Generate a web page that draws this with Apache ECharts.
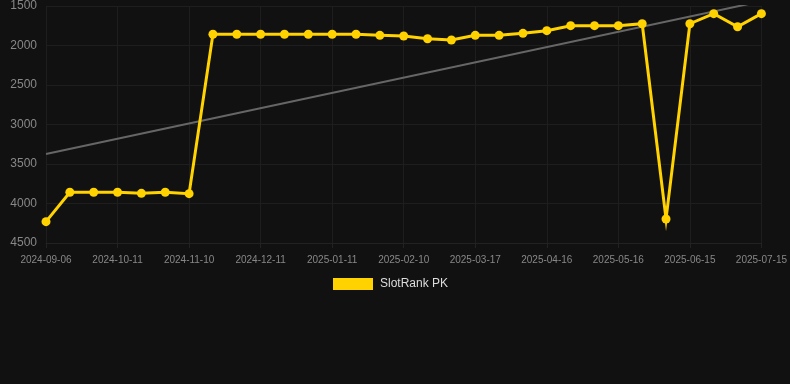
<!DOCTYPE html>
<html>
<head>
<meta charset="utf-8">
<script src="https://cdn.jsdelivr.net/npm/echarts@6/dist/echarts.min.js"></script>
<style>
html,body{margin:0;padding:0;background:#111111;}
#chart{width:790px;height:384px;}
</style>
</head>
<body>
<div id="chart"></div>
<script>
const categories = [
  '2024-09-06','2024-09-18','2024-09-29','2024-10-11','2024-10-21','2024-10-31',
  '2024-11-10','2024-11-20','2024-12-01','2024-12-11','2024-12-21','2025-01-01',
  '2025-01-11','2025-01-21','2025-01-31','2025-02-10','2025-02-22','2025-03-05',
  '2025-03-17','2025-03-27','2025-04-06','2025-04-16','2025-04-26','2025-05-06',
  '2025-05-16','2025-05-26','2025-06-05','2025-06-15','2025-06-25','2025-07-05',
  '2025-07-15'
];
const rankValues = [
  4230, 3858, 3858, 3858, 3871, 3858, 3875, 1858, 1858, 1858, 1858, 1858,
  1858, 1858, 1871, 1880, 1914, 1930, 1871, 1871, 1846, 1812, 1749, 1749,
  1749, 1724, 4196, 1724, 1597, 1762, 1597
];
const trendStart = 3374;
const trendEnd = 1440;
const yTicks = { min: 1500, max: 4500, interval: 500 };

const trendValues = categories.map((c, i) => (i === 0 ? trendStart : (i === categories.length - 1 ? trendEnd : null)));

const chart = echarts.init(document.getElementById('chart'));
chart.setOption({
  backgroundColor: '#111111',
  animation: false,
  grid: { left: 46, right: 28, top: 6, bottom: 141 },
  legend: {
    top: 278,
    left: 333,
    padding: 0,
    itemWidth: 40,
    itemHeight: 12,
    icon: 'rect',
    data: ['SlotRank PK'],
    textStyle: { color: '#dddddd', fontSize: 12, padding: [0, 0, 0, 2], fontFamily: 'Liberation Sans, Arial, sans-serif' }
  },
  xAxis: {
    type: 'category',
    data: categories,
    boundaryGap: false,
    axisLine: { show: true, lineStyle: { color: '#222222' } },
    axisTick: { show: true, alignWithLabel: true, interval: 2, lineStyle: { color: '#222222' } },
    axisLabel: { interval: 2, color: '#888888', fontSize: 10, margin: 12, fontFamily: 'Liberation Sans, Arial, sans-serif' },
    splitLine: { show: true, interval: 2, lineStyle: { color: '#1e1e1e' } }
  },
  yAxis: {
    type: 'value',
    inverse: true,
    min: yTicks.min,
    max: yTicks.max,
    interval: yTicks.interval,
    axisLine: { show: false },
    axisTick: { show: false },
    axisLabel: { color: '#888888', fontSize: 12, margin: 9, formatter: v => String(v), fontFamily: 'Liberation Sans, Arial, sans-serif' },
    splitLine: { lineStyle: { color: '#1e1e1e' } }
  },
  series: [
    {
      name: 'Trend',
      type: 'line',
      data: trendValues,
      connectNulls: true,
      symbol: 'none',
      clip: true,
      lineStyle: { color: '#666666', width: 2 },
      silent: true,
      z: 1
    },
    {
      name: 'SlotRank PK',
      type: 'line',
      data: rankValues,
      symbol: 'circle',
      symbolSize: 9,
      itemStyle: { color: '#FFD200' },
      lineStyle: { color: '#FFD200', width: 3, join: 'miter' },
      z: 2
    }
  ]
});
</script>
</body>
</html>
